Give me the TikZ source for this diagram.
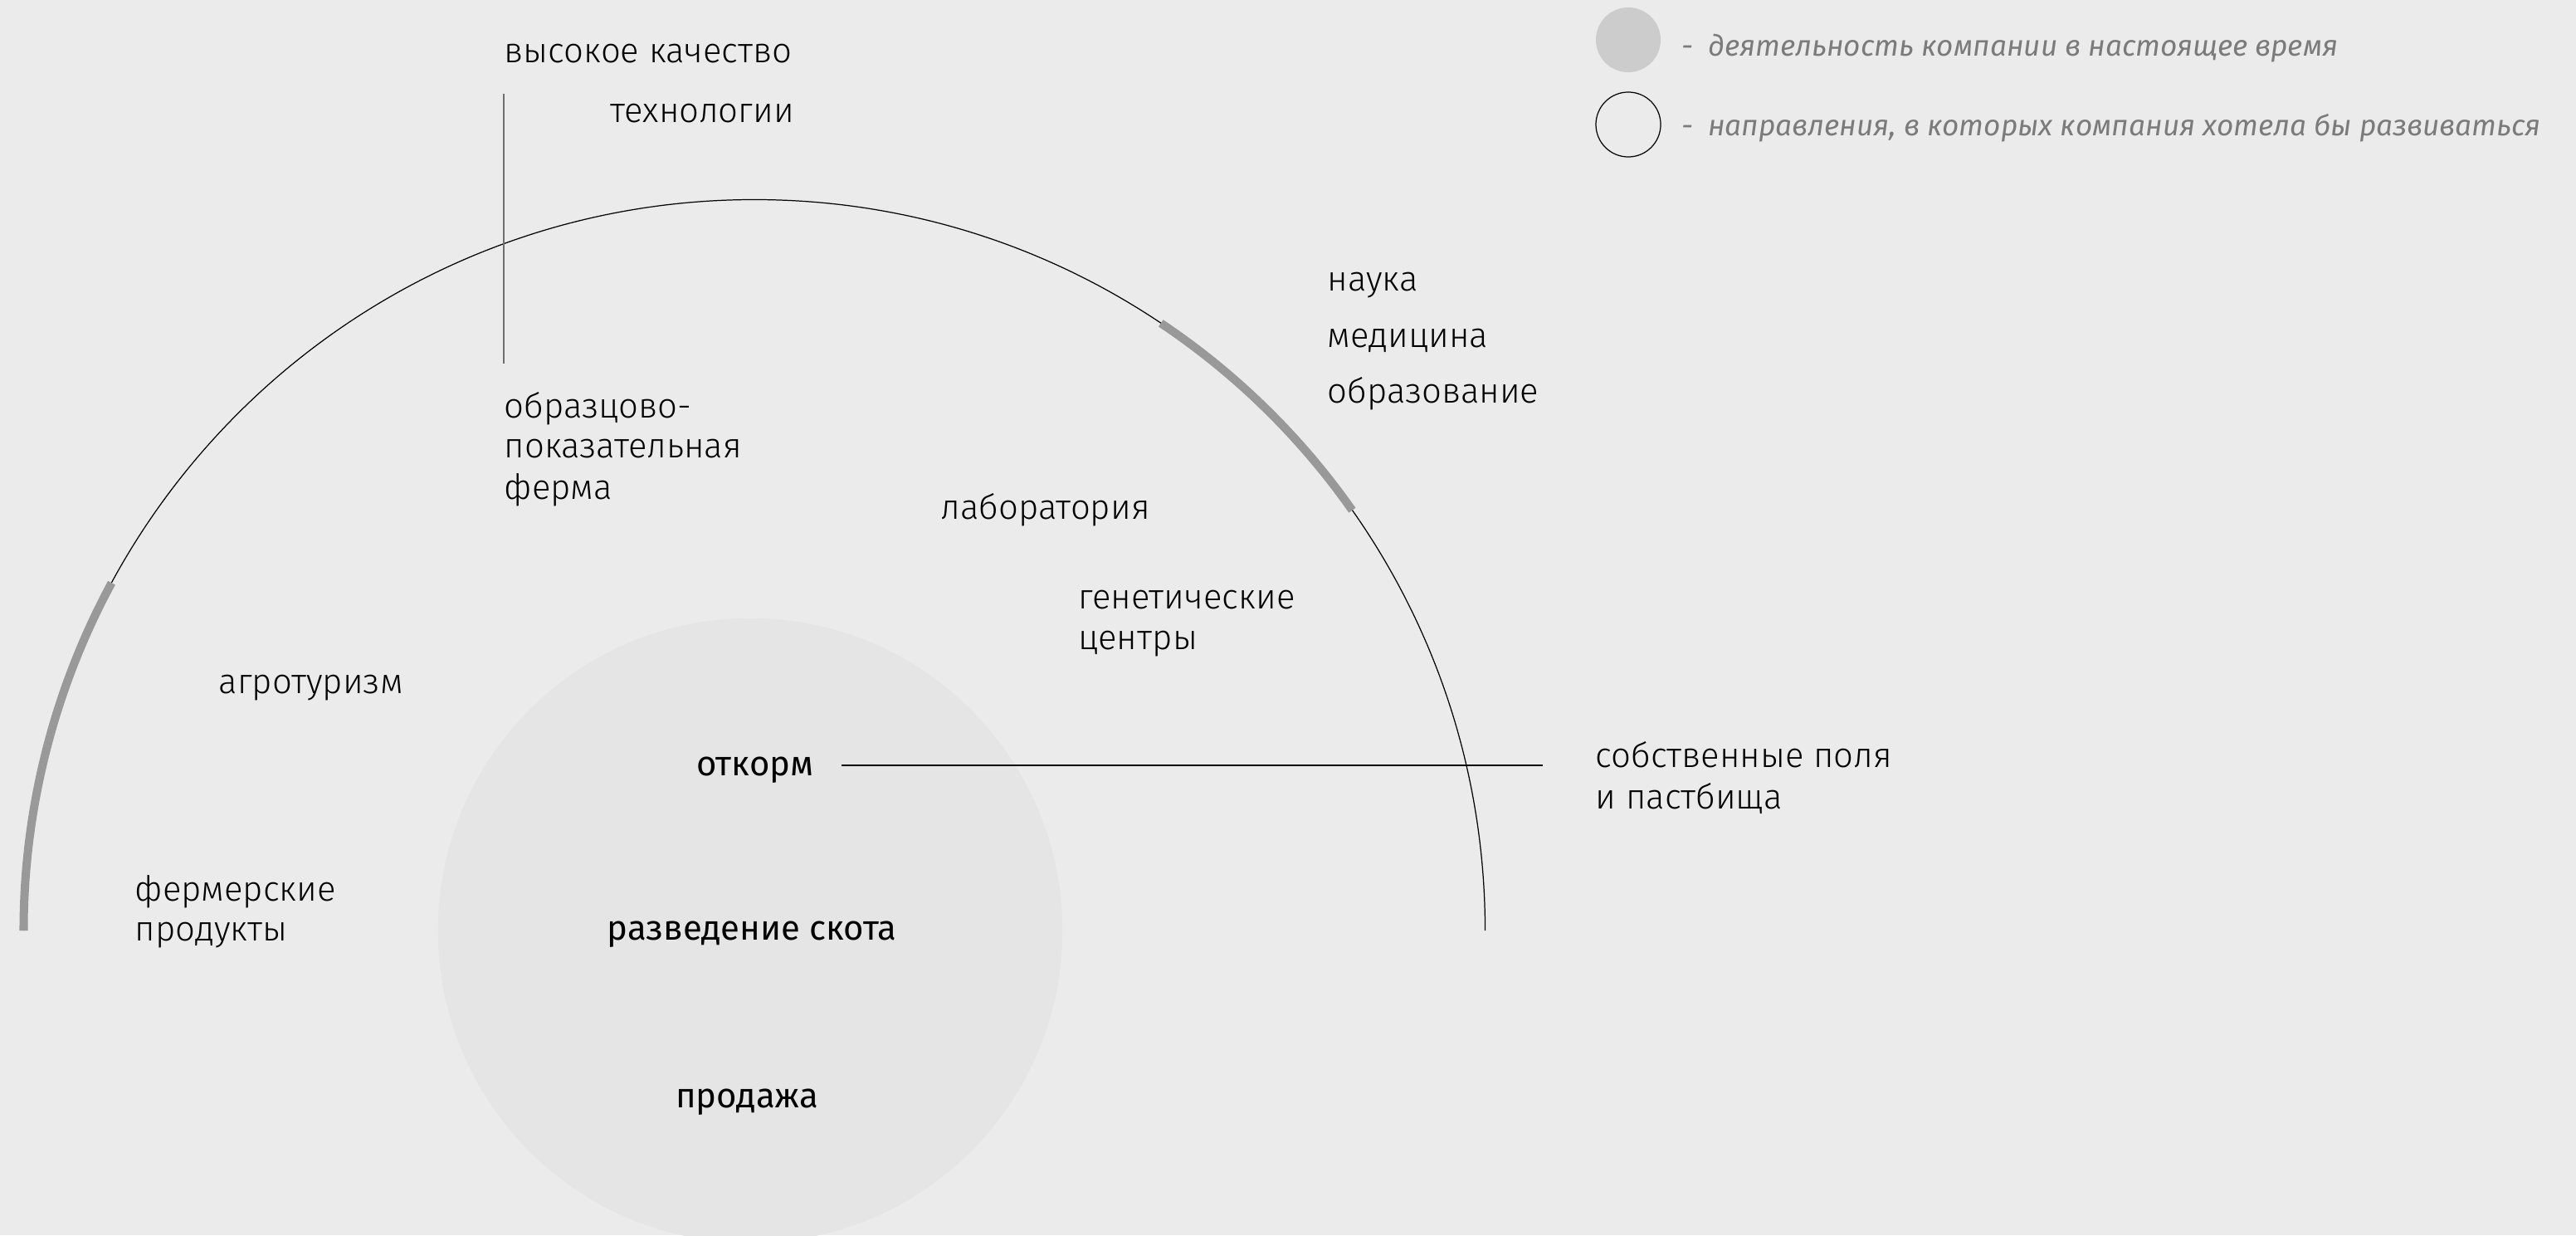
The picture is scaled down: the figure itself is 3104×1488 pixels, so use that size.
\documentclass[tikz,border=0pt]{standalone}
\usepackage{fontspec}
\setmainfont{Fira Sans}[UprightFont={* Light},ItalicFont={* Light Italic},BoldFont={*}]
\newfontfamily\regfont{Fira Sans}
\usetikzlibrary{calc}
\definecolor{bgc}{RGB}{235,235,235}
\definecolor{innerc}{RGB}{229,229,229}
\definecolor{legfill}{RGB}{204,204,204}
\definecolor{thickc}{RGB}{153,153,153}
\definecolor{legtext}{RGB}{123,123,123}
\definecolor{vline}{RGB}{110,110,110}
\tikzset{
  lbl/.style={anchor=base west,inner sep=0pt,font=\fontsize{11.9}{14}\selectfont,text=black},
  core/.style={anchor=base,inner sep=0pt,font=\regfont\fontsize{11.9}{14}\selectfont,text=black},
  legend/.style={anchor=base west,inner sep=0pt,font=\regfont\itshape\fontsize{10}{12}\selectfont,text=legtext},
  thinarc/.style={line width=0.35pt,draw=black},
  thickarc/.style={line width=2.85pt,draw=thickc},
  leader/.style={line width=0.4pt,draw=black},
}
\begin{document}
\begin{tikzpicture}[x=0.01cm,y=-0.01cm]
\useasboundingbox (0,0) rectangle (3104,1488);
\clip (0,0) rectangle (3104,1488);
\fill[bgc] (0,0) rectangle (3104,1488);
% inner circle (current activity)
\fill[innerc] (904,1121) circle[radius=3.76cm];
% big semicircle
\coordinate (C) at (909,1121);
\draw[thinarc] ($(C)+(180:8.8cm)$) arc[start angle=180,end angle=0,radius=8.8cm];
\draw[thickarc] ($(C)+(180:8.8cm)$) arc[start angle=180,end angle=151.6,radius=8.8cm];
\draw[thickarc] ($(C)+(56.2:8.8cm)$) arc[start angle=56.2,end angle=35.1,radius=8.8cm];
% legend
\fill[legfill] (1962,48) circle[radius=0.39cm];
\draw[line width=0.35pt] (1962,150) circle[radius=0.39cm];
\node[legend] (leg1) at (2026,68) {-\hspace{0.5em}деятельность компании в настоящее время};
\node[legend] (leg2) at (2026,163) {-\hspace{0.5em}направления, в которых компания хотела бы развиваться};
% labels
\node[lbl] (hq) at (607,76) {высокое качество};
\node[lbl] (tech) at (735,148) {технологии};
\coordinate (vtop) at (607,113);
\coordinate (vbot) at (607,438);
\draw[line width=0.55pt,draw=vline] (vtop) -- (vbot);
\node[lbl] (obr1) at (607,503) {образцово-};
\node[lbl] (obr2) at (607,551) {показательная};
\node[lbl] (obr3) at (607,601) {ферма};
\node[lbl] (nauka) at (1599,350) {наука};
\node[lbl] (med) at (1599,418) {медицина};
\node[lbl] (edu) at (1599,485) {образование};
\node[lbl] (lab) at (1133,625) {лаборатория};
\node[lbl] (gen1) at (1299,733) {генетические};
\node[lbl] (gen2) at (1299,782) {центры};
\node[lbl] (agro) at (263,835) {агротуризм};
\node[lbl] (farm1) at (162,1085) {фермерские};
\node[lbl] (farm2) at (162,1133) {продукты};
\node[lbl] (fields1) at (1922,924) {собственные поля};
\node[lbl] (fields2) at (1922,974) {и пастбища};
% core activities
\node[core] (otkorm) at (910,934) {откорм};
\node[core] (razv) at (906,1132) {разведение скота};
\node[core] (prod) at (900,1334) {продажа};
\coordinate (fieldsEnd) at (1859,922);
\coordinate (leadStart) at ($(otkorm.east)+(33,0)$);
\draw[leader] (leadStart |- fieldsEnd) -- (fieldsEnd);
\end{tikzpicture}
\end{document}
